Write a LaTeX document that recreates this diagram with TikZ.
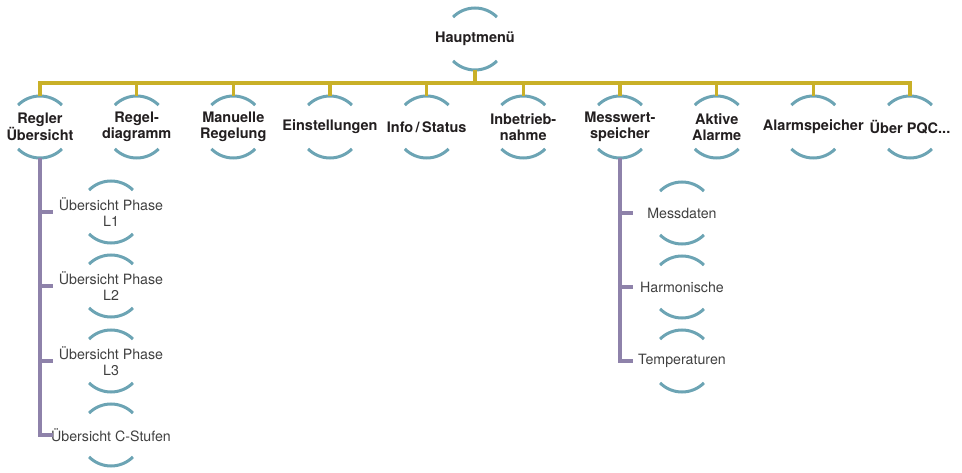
\documentclass[tikz,border=0pt]{standalone}
\usepackage{fontspec}
\setmainfont{TeX Gyre Heros}
\usepackage{xcolor}
\usepackage{tikz}
\definecolor{arcblue}{RGB}{108,164,180}
\definecolor{menugold}{RGB}{201,176,40}
\definecolor{subviolet}{RGB}{142,130,170}
\definecolor{maintext}{RGB}{35,31,32}
\definecolor{subtext}{RGB}{64,64,64}
\newcommand{\arcradius}{31pt}
\newcommand{\menuarcs}[1]{%
	\draw[arcline] ([shift={(45:\arcradius)}]#1.center) arc[start angle=45, end angle=135, radius=\arcradius];
	\draw[arcline] ([shift={(-45:\arcradius)}]#1.center) arc[start angle=-45, end angle=-135, radius=\arcradius];
}

\begin{document}
\begin{tikzpicture}[x=1pt, y=1pt,
		arcline/.style={arcblue, line width=3pt},
		goldline/.style={menugold, line width=3.4pt},
		violetline/.style={subviolet, line width=3.4pt},
		mainitem/.style={font=\bfseries\fontsize{14.5}{15.5}\selectfont, text=maintext, align=center, inner sep=0pt},
		subitem/.style={font=\fontsize{14.2}{16}\selectfont, text=subtext, align=center, inner sep=0pt}]
		\useasboundingbox (0,0) rectangle (962,472);
		% Main menu
		\node[mainitem] (haupt) at (475,433) {Hauptmenü};
		% First level
		\node[mainitem] (regler) at (40,345) {Regler\\Übersicht};
		\node[mainitem] (diagramm) at (136.7,345) {Regel-\\diagramm};
		\node[mainitem] (manuell) at (233.3,345) {Manuelle\\Regelung};
		\node[mainitem] (einst) at (330,345) {Einstellungen};
		\node[mainitem] (info) at (426.7,345) {Info\,/\,Status};
		\node[mainitem] (inbetr) at (523.3,345) {Inbetrieb-\\nahme};
		\node[mainitem] (messw) at (620,345) {Messwert-\\speicher};
		\node[mainitem] (aktiv) at (716.7,345) {Aktive\\Alarme};
		\node[mainitem] (alarmsp) at (813.3,345) {Alarmspeicher};
		\node[mainitem] (ueber) at (910,345) {Über PQC...};
		% Second level
		\node[subitem] (phaseA) at (111,260) {Übersicht Phase\\L1};
		\node[subitem] (phaseB) at (111,186) {Übersicht Phase\\L2};
		\node[subitem] (phaseC) at (111,111) {Übersicht Phase\\L3};
		\node[subitem] (cstufen) at (111,37) {Übersicht C-Stufen};
		\node[subitem] (messdaten) at (682,259) {Messdaten};
		\node[subitem] (harmon) at (682,185) {Harmonische};
		\node[subitem] (temp) at (682,111) {Temperaturen};
		% Arcs
		\foreach \n in {haupt,regler,diagramm,manuell,einst,info,inbetr,messw,aktiv,alarmsp,ueber,
			phaseA,phaseB,phaseC,cstufen,messdaten,harmon,temp}
			{\menuarcs{\n}}
		% Connectors
		\foreach \n in {regler,diagramm,manuell,einst,info,inbetr,messw,aktiv,alarmsp,ueber}
			\draw[goldline] ([yshift=-\arcradius]haupt.center) -- ++(0,-13) -| ([yshift=\arcradius]\n.center);
		\foreach \k in {phaseA,phaseB,phaseC,cstufen}
			\draw[violetline] ([yshift=-\arcradius]regler.center) |- ([xshift=13pt]regler.center |- \k.center);
		\foreach \k in {messdaten,harmon,temp}
			\draw[violetline] ([yshift=-\arcradius]messw.center) |- ([xshift=13pt]messw.center |- \k.center);
	\end{tikzpicture}
\end{document}
